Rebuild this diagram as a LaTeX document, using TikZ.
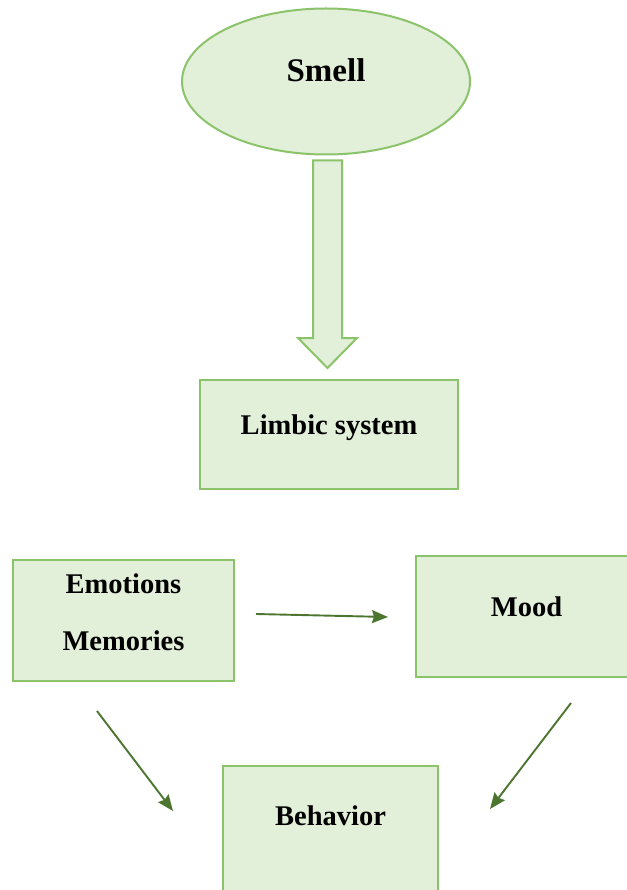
\documentclass[tikz,border=0pt]{standalone}
\usepackage{fontspec}
\setmainfont{Liberation Serif}
\usetikzlibrary{shapes.geometric,arrows.meta}
\definecolor{boxfill}{HTML}{E2EFD9}
\definecolor{boxline}{HTML}{8BC36A}
\definecolor{arrowgreen}{HTML}{4C7630}
\tikzset{
  labeltext/.style={font=\fontsize{28.5}{57}\selectfont\bfseries, text=black},
  box/.style={draw=boxline, line width=2pt, fill=boxfill, rectangle,
    inner sep=0pt, outer sep=0pt, align=center, labeltext},
  oneline/.style={text height=8pt, text depth=8pt},
  link/.style={draw=arrowgreen, line width=1.9pt,
    -{Stealth[length=16pt, width=13pt, inset=2pt]}},
  blockarrow/.style={draw=boxline, line width=2pt, fill=boxfill, line join=miter}
}
\begin{document}
\begin{tikzpicture}[x=1pt, y=-1pt]
  \useasboundingbox (0,0) rectangle (626,890);

  % top ellipse
  \node[ellipse, draw=boxline, line width=2pt, fill=boxfill, inner sep=0pt,
        minimum width=288pt, minimum height=146pt, oneline,
        font=\fontsize{33}{40}\selectfont\bfseries] (smell) at (326,81.5) {Smell};

  % hollow block arrow down to the limbic system
  \draw[blockarrow] (313,160.5) -- (342,160.5) -- (342,338) -- (357,338)
    -- (327.5,368) -- (298,338) -- (313,338) -- cycle;

  % boxes
  \node[box, oneline, minimum width=258pt, minimum height=109pt]
    (limbic) at (329,434.5) {Limbic system};
  \node[box, text depth=17pt, minimum width=221pt, minimum height=121pt]
    (emo) at (123.5,620.5) {Emotions\\Memories};
  \node[box, oneline, minimum width=221pt, minimum height=121pt]
    (mood) at (526.5,616.5) {Mood};
  \node[box, text height=8pt, text depth=19pt, minimum width=215pt, minimum height=129pt]
    (behav) at (330.5,830.5) {Behavior};

  % free ends of the connectors
  \coordinate (e1) at (256,614);
  \coordinate (e2) at (388,617);
  \coordinate (l1) at (97,711);
  \coordinate (l2) at (173,811);
  \coordinate (r1) at (571,703);
  \coordinate (r2) at (490,809);

  \draw[link] (e1) -- (e2);
  \draw[link] (l1) -- (l2);
  \draw[link] (r1) -- (r2);
\end{tikzpicture}
\end{document}
